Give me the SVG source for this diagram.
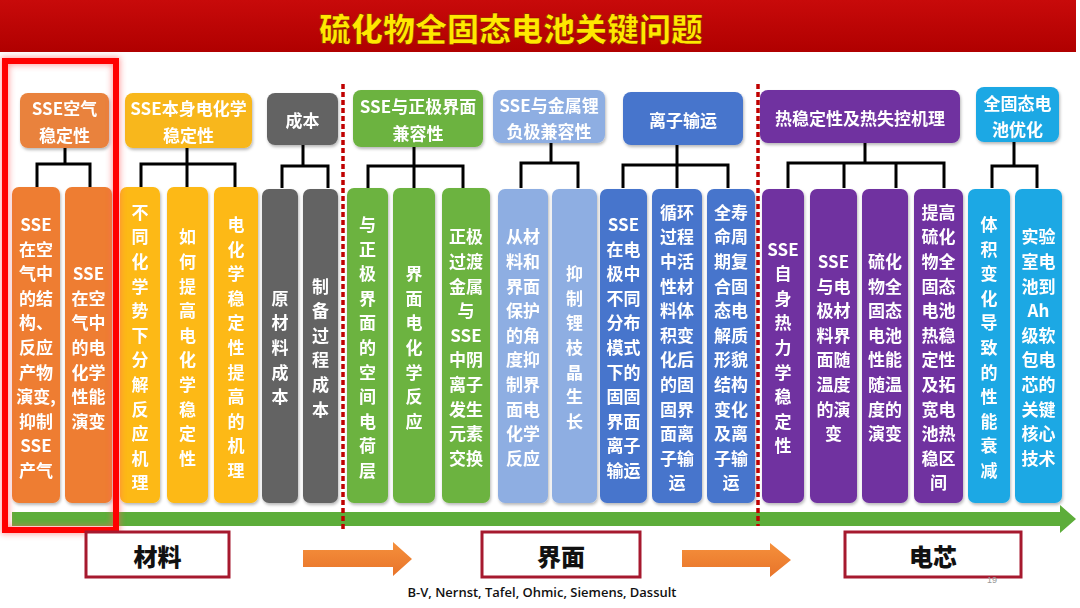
<svg xmlns="http://www.w3.org/2000/svg" width="1080" height="608" viewBox="0 0 1080 608">
<defs>
<filter id="sh" x="-20%" y="-10%" width="140%" height="120%"><feDropShadow dx="1" dy="2" stdDeviation="1.5" flood-color="#000" flood-opacity="0.28"/></filter>
<filter id="glow" x="-10%" y="-5%" width="120%" height="110%"><feGaussianBlur stdDeviation="3"/></filter>
<linearGradient id="tb" x1="0" y1="0" x2="0" y2="1"><stop offset="0" stop-color="#C80A0A"/><stop offset="1" stop-color="#B00000"/></linearGradient>
<linearGradient id="og" x1="0" y1="0" x2="0" y2="1"><stop offset="0" stop-color="#F5903C"/><stop offset="1" stop-color="#E8742A"/></linearGradient>
<style>
.ht{font-family:"Noto Sans CJK SC","Liberation Sans",sans-serif;font-weight:700;font-size:17px;fill:#fff;text-anchor:middle;dominant-baseline:central}
.ct{font-family:"Noto Sans CJK SC","Liberation Sans",sans-serif;font-weight:700;font-size:17px;fill:#fff;text-anchor:middle;dominant-baseline:central}
.bt{font-family:"Noto Sans CJK SC","Liberation Sans",sans-serif;font-weight:900;font-size:24px;fill:#111;text-anchor:middle;dominant-baseline:central}
.box{filter:url(#sh)}
.or{fill:#EE7D31}.orh{fill:#E9823C}
.ye{fill:#FDB913}.yeh{fill:#F8B71A}
.gr{fill:#646464}
.gn{fill:#6CB33F}
.lb{fill:#8EAEE2}
.bl{fill:#4774CC}
.pu{fill:#7030A0}
.cy{fill:#1FA8E4}
.conn{stroke:#000;stroke-width:3;fill:none}
.dash{stroke:#C00000;stroke-width:3.5;stroke-dasharray:5 3;fill:none}
.lbl{fill:#fff;stroke:#A6192E;stroke-width:3}
</style>
</defs>
<rect x="0" y="0" width="1080" height="608" fill="#fff"/>
<g id="title">
<rect x="0" y="0" width="1076" height="52" fill="url(#tb)"/>
<text x="511" y="27" style="font-family:'Noto Sans CJK SC','Liberation Sans',sans-serif;font-weight:900;font-size:32px;fill:#FFE800;text-anchor:middle;dominant-baseline:central;stroke:#8a1000;stroke-width:0.6">硫化物全固态电池关键问题</text>
</g>

<g id="connectors">
<path class="conn" d="M65,148V164M37,187V164H90V187"/>
<path class="conn" d="M187,148V187M141,187V164H235V187"/>
<path class="conn" d="M303,145V166M282,188V166H328V188"/>
<path class="conn" d="M414,147V188M368,188V166H463V188"/>
<path class="conn" d="M551,143V163M521,188V163H578V188"/>
<path class="conn" d="M677,145V188M623,188V165H728V188"/>
<path class="conn" d="M865,143V163M788,188V163H944V188M844,163V188M896,163V188"/>
<path class="conn" d="M1014,142V166M992,188V166H1037V188"/>
</g>

<g id="h-air" class="box"><rect class="orh" x="20" y="93" width="89" height="55" rx="8"/><text class="ht" x="64.5" y="107">SSE空气</text><text class="ht" x="64.5" y="134">稳定性</text></g>
<g id="h-echem" class="box"><rect class="yeh" x="125" y="93" width="127" height="55" rx="8"/><text class="ht" x="188.5" y="107">SSE本身电化学</text><text class="ht" x="188.5" y="134">稳定性</text></g>
<g id="h-cost" class="box"><rect class="gr" x="267" y="93" width="71" height="52" rx="8"/><text class="ht" x="302.5" y="119">成本</text></g>
<g id="h-cathode" class="box"><rect class="gn" x="353" y="90" width="130" height="57" rx="8"/><text class="ht" x="418" y="105">SSE与正极界面</text><text class="ht" x="418" y="132">兼容性</text></g>
<g id="h-anode" class="box"><rect class="lb" x="493" y="90" width="112" height="53" rx="8"/><text class="ht" x="549" y="104">SSE与金属锂</text><text class="ht" x="549" y="130">负极兼容性</text></g>
<g id="h-ion" class="box"><rect class="bl" x="623" y="92" width="120" height="53" rx="8"/><text class="ht" x="683" y="119">离子输运</text></g>
<g id="h-thermal" class="box"><rect class="pu" x="760" y="90" width="200" height="53" rx="8"/><text class="ht" x="860" y="117">热稳定性及热失控机理</text></g>
<g id="h-opt" class="box"><rect class="cy" x="976" y="87" width="83" height="55" rx="8"/><text class="ht" x="1017.5" y="102">全固态电</text><text class="ht" x="1017.5" y="128">池优化</text></g>

<g id="c1" class="box"><rect class="or" x="12" y="187" width="48" height="316" rx="7"/>
<text class="ct" x="36" y="223"><tspan x="36" dy="0">SSE</tspan><tspan x="36" dy="24.6">在空</tspan><tspan x="36" dy="24.6">气中</tspan><tspan x="36" dy="24.6">的结</tspan><tspan x="36" dy="24.6">构、</tspan><tspan x="36" dy="24.6">反应</tspan><tspan x="36" dy="24.6">产物</tspan><tspan x="36" dy="24.6">演变,</tspan><tspan x="36" dy="24.6">抑制</tspan><tspan x="36" dy="24.6">SSE</tspan><tspan x="36" dy="24.6">产气</tspan></text></g>
<g id="c2" class="box"><rect class="or" x="65" y="187" width="47" height="316" rx="7"/>
<text class="ct" x="88.5" y="272.2"><tspan x="88.5" dy="0">SSE</tspan><tspan x="88.5" dy="24.6">在空</tspan><tspan x="88.5" dy="24.6">气中</tspan><tspan x="88.5" dy="24.6">的电</tspan><tspan x="88.5" dy="24.6">化学</tspan><tspan x="88.5" dy="24.6">性能</tspan><tspan x="88.5" dy="24.6">演变</tspan></text></g>

<g id="c3" class="box"><rect class="ye" x="120" y="187" width="40" height="316" rx="7"/>
<text class="ct" x="140" y="210.7"><tspan x="140" dy="0">不</tspan><tspan x="140" dy="24.6">同</tspan><tspan x="140" dy="24.6">化</tspan><tspan x="140" dy="24.6">学</tspan><tspan x="140" dy="24.6">势</tspan><tspan x="140" dy="24.6">下</tspan><tspan x="140" dy="24.6">分</tspan><tspan x="140" dy="24.6">解</tspan><tspan x="140" dy="24.6">反</tspan><tspan x="140" dy="24.6">应</tspan><tspan x="140" dy="24.6">机</tspan><tspan x="140" dy="24.6">理</tspan></text></g>
<g id="c4" class="box"><rect class="ye" x="167" y="187" width="41" height="316" rx="7"/>
<text class="ct" x="187.5" y="235.3"><tspan x="187.5" dy="0">如</tspan><tspan x="187.5" dy="24.6">何</tspan><tspan x="187.5" dy="24.6">提</tspan><tspan x="187.5" dy="24.6">高</tspan><tspan x="187.5" dy="24.6">电</tspan><tspan x="187.5" dy="24.6">化</tspan><tspan x="187.5" dy="24.6">学</tspan><tspan x="187.5" dy="24.6">稳</tspan><tspan x="187.5" dy="24.6">定</tspan><tspan x="187.5" dy="24.6">性</tspan></text></g>
<g id="c5" class="box"><rect class="ye" x="214" y="187" width="44" height="316" rx="7"/>
<text class="ct" x="236" y="223"><tspan x="236" dy="0">电</tspan><tspan x="236" dy="24.6">化</tspan><tspan x="236" dy="24.6">学</tspan><tspan x="236" dy="24.6">稳</tspan><tspan x="236" dy="24.6">定</tspan><tspan x="236" dy="24.6">性</tspan><tspan x="236" dy="24.6">提</tspan><tspan x="236" dy="24.6">高</tspan><tspan x="236" dy="24.6">的</tspan><tspan x="236" dy="24.6">机</tspan><tspan x="236" dy="24.6">理</tspan></text></g>

<g id="c6" class="box"><rect class="gr" x="262" y="189" width="36" height="314" rx="7"/>
<text class="ct" x="280" y="296.8"><tspan x="280" dy="0">原</tspan><tspan x="280" dy="24.6">材</tspan><tspan x="280" dy="24.6">料</tspan><tspan x="280" dy="24.6">成</tspan><tspan x="280" dy="24.6">本</tspan></text></g>
<g id="c7" class="box"><rect class="gr" x="303" y="189" width="35" height="314" rx="7"/>
<text class="ct" x="320.5" y="284.5"><tspan x="320.5" dy="0">制</tspan><tspan x="320.5" dy="24.6">备</tspan><tspan x="320.5" dy="24.6">过</tspan><tspan x="320.5" dy="24.6">程</tspan><tspan x="320.5" dy="24.6">成</tspan><tspan x="320.5" dy="24.6">本</tspan></text></g>

<g id="c8" class="box"><rect class="gn" x="347" y="188" width="41" height="315" rx="7"/>
<text class="ct" x="367.5" y="223"><tspan x="367.5" dy="0">与</tspan><tspan x="367.5" dy="24.6">正</tspan><tspan x="367.5" dy="24.6">极</tspan><tspan x="367.5" dy="24.6">界</tspan><tspan x="367.5" dy="24.6">面</tspan><tspan x="367.5" dy="24.6">的</tspan><tspan x="367.5" dy="24.6">空</tspan><tspan x="367.5" dy="24.6">间</tspan><tspan x="367.5" dy="24.6">电</tspan><tspan x="367.5" dy="24.6">荷</tspan><tspan x="367.5" dy="24.6">层</tspan></text></g>
<g id="c9" class="box"><rect class="gn" x="393" y="188" width="42" height="315" rx="7"/>
<text class="ct" x="414" y="272.2"><tspan x="414" dy="0">界</tspan><tspan x="414" dy="24.6">面</tspan><tspan x="414" dy="24.6">电</tspan><tspan x="414" dy="24.6">化</tspan><tspan x="414" dy="24.6">学</tspan><tspan x="414" dy="24.6">反</tspan><tspan x="414" dy="24.6">应</tspan></text></g>
<g id="c10" class="box"><rect class="gn" x="442" y="188" width="48" height="315" rx="7"/>
<text class="ct" x="466" y="235.3"><tspan x="466" dy="0">正极</tspan><tspan x="466" dy="24.6">过渡</tspan><tspan x="466" dy="24.6">金属</tspan><tspan x="466" dy="24.6">与</tspan><tspan x="466" dy="24.6">SSE</tspan><tspan x="466" dy="24.6">中阴</tspan><tspan x="466" dy="24.6">离子</tspan><tspan x="466" dy="24.6">发生</tspan><tspan x="466" dy="24.6">元素</tspan><tspan x="466" dy="24.6">交换</tspan></text></g>

<g id="c11" class="box"><rect class="lb" x="498" y="189" width="50" height="314" rx="7"/>
<text class="ct" x="523" y="235.3"><tspan x="523" dy="0">从材</tspan><tspan x="523" dy="24.6">料和</tspan><tspan x="523" dy="24.6">界面</tspan><tspan x="523" dy="24.6">保护</tspan><tspan x="523" dy="24.6">的角</tspan><tspan x="523" dy="24.6">度抑</tspan><tspan x="523" dy="24.6">制界</tspan><tspan x="523" dy="24.6">面电</tspan><tspan x="523" dy="24.6">化学</tspan><tspan x="523" dy="24.6">反应</tspan></text></g>
<g id="c12" class="box"><rect class="lb" x="552" y="189" width="45" height="314" rx="7"/>
<text class="ct" x="574.5" y="272.2"><tspan x="574.5" dy="0">抑</tspan><tspan x="574.5" dy="24.6">制</tspan><tspan x="574.5" dy="24.6">锂</tspan><tspan x="574.5" dy="24.6">枝</tspan><tspan x="574.5" dy="24.6">晶</tspan><tspan x="574.5" dy="24.6">生</tspan><tspan x="574.5" dy="24.6">长</tspan></text></g>

<g id="c13" class="box"><rect class="bl" x="600" y="189" width="47" height="314" rx="7"/>
<text class="ct" x="623.5" y="223"><tspan x="623.5" dy="0">SSE</tspan><tspan x="623.5" dy="24.6">在电</tspan><tspan x="623.5" dy="24.6">极中</tspan><tspan x="623.5" dy="24.6">不同</tspan><tspan x="623.5" dy="24.6">分布</tspan><tspan x="623.5" dy="24.6">模式</tspan><tspan x="623.5" dy="24.6">下的</tspan><tspan x="623.5" dy="24.6">固固</tspan><tspan x="623.5" dy="24.6">界面</tspan><tspan x="623.5" dy="24.6">离子</tspan><tspan x="623.5" dy="24.6">输运</tspan></text></g>
<g id="c14" class="box"><rect class="bl" x="652" y="189" width="50" height="314" rx="7"/>
<text class="ct" x="677" y="210.7"><tspan x="677" dy="0">循环</tspan><tspan x="677" dy="24.6">过程</tspan><tspan x="677" dy="24.6">中活</tspan><tspan x="677" dy="24.6">性材</tspan><tspan x="677" dy="24.6">料体</tspan><tspan x="677" dy="24.6">积变</tspan><tspan x="677" dy="24.6">化后</tspan><tspan x="677" dy="24.6">的固</tspan><tspan x="677" dy="24.6">固界</tspan><tspan x="677" dy="24.6">面离</tspan><tspan x="677" dy="24.6">子输</tspan><tspan x="677" dy="24.6">运</tspan></text></g>
<g id="c15" class="box"><rect class="bl" x="707" y="189" width="48" height="314" rx="7"/>
<text class="ct" x="731" y="210.7"><tspan x="731" dy="0">全寿</tspan><tspan x="731" dy="24.6">命周</tspan><tspan x="731" dy="24.6">期复</tspan><tspan x="731" dy="24.6">合固</tspan><tspan x="731" dy="24.6">态电</tspan><tspan x="731" dy="24.6">解质</tspan><tspan x="731" dy="24.6">形貌</tspan><tspan x="731" dy="24.6">结构</tspan><tspan x="731" dy="24.6">变化</tspan><tspan x="731" dy="24.6">及离</tspan><tspan x="731" dy="24.6">子输</tspan><tspan x="731" dy="24.6">运</tspan></text></g>

<g id="c16" class="box"><rect class="pu" x="762" y="189" width="42" height="314" rx="7"/>
<text class="ct" x="783" y="247.6"><tspan x="783" dy="0">SSE</tspan><tspan x="783" dy="24.6">自</tspan><tspan x="783" dy="24.6">身</tspan><tspan x="783" dy="24.6">热</tspan><tspan x="783" dy="24.6">力</tspan><tspan x="783" dy="24.6">学</tspan><tspan x="783" dy="24.6">稳</tspan><tspan x="783" dy="24.6">定</tspan><tspan x="783" dy="24.6">性</tspan></text></g>
<g id="c17" class="box"><rect class="pu" x="810" y="189" width="47" height="314" rx="7"/>
<text class="ct" x="833.5" y="259.9"><tspan x="833.5" dy="0">SSE</tspan><tspan x="833.5" dy="24.6">与电</tspan><tspan x="833.5" dy="24.6">极材</tspan><tspan x="833.5" dy="24.6">料界</tspan><tspan x="833.5" dy="24.6">面随</tspan><tspan x="833.5" dy="24.6">温度</tspan><tspan x="833.5" dy="24.6">的演</tspan><tspan x="833.5" dy="24.6">变</tspan></text></g>
<g id="c18" class="box"><rect class="pu" x="862" y="189" width="46" height="314" rx="7"/>
<text class="ct" x="885" y="259.9"><tspan x="885" dy="0">硫化</tspan><tspan x="885" dy="24.6">物全</tspan><tspan x="885" dy="24.6">固态</tspan><tspan x="885" dy="24.6">电池</tspan><tspan x="885" dy="24.6">性能</tspan><tspan x="885" dy="24.6">随温</tspan><tspan x="885" dy="24.6">度的</tspan><tspan x="885" dy="24.6">演变</tspan></text></g>
<g id="c19" class="box"><rect class="pu" x="914" y="189" width="49" height="314" rx="7"/>
<text class="ct" x="938.5" y="210.7"><tspan x="938.5" dy="0">提高</tspan><tspan x="938.5" dy="24.6">硫化</tspan><tspan x="938.5" dy="24.6">物全</tspan><tspan x="938.5" dy="24.6">固态</tspan><tspan x="938.5" dy="24.6">电池</tspan><tspan x="938.5" dy="24.6">热稳</tspan><tspan x="938.5" dy="24.6">定性</tspan><tspan x="938.5" dy="24.6">及拓</tspan><tspan x="938.5" dy="24.6">宽电</tspan><tspan x="938.5" dy="24.6">池热</tspan><tspan x="938.5" dy="24.6">稳区</tspan><tspan x="938.5" dy="24.6">间</tspan></text></g>

<g id="c20" class="box"><rect class="cy" x="968" y="189" width="42" height="314" rx="7"/>
<text class="ct" x="989" y="223"><tspan x="989" dy="0">体</tspan><tspan x="989" dy="24.6">积</tspan><tspan x="989" dy="24.6">变</tspan><tspan x="989" dy="24.6">化</tspan><tspan x="989" dy="24.6">导</tspan><tspan x="989" dy="24.6">致</tspan><tspan x="989" dy="24.6">的</tspan><tspan x="989" dy="24.6">性</tspan><tspan x="989" dy="24.6">能</tspan><tspan x="989" dy="24.6">衰</tspan><tspan x="989" dy="24.6">减</tspan></text></g>
<g id="c21" class="box"><rect class="cy" x="1015" y="189" width="47" height="314" rx="7"/>
<text class="ct" x="1038.5" y="235.3"><tspan x="1038.5" dy="0">实验</tspan><tspan x="1038.5" dy="24.6">室电</tspan><tspan x="1038.5" dy="24.6">池到</tspan><tspan x="1038.5" dy="24.6">Ah</tspan><tspan x="1038.5" dy="24.6">级软</tspan><tspan x="1038.5" dy="24.6">包电</tspan><tspan x="1038.5" dy="24.6">芯的</tspan><tspan x="1038.5" dy="24.6">关键</tspan><tspan x="1038.5" dy="24.6">核心</tspan><tspan x="1038.5" dy="24.6">技术</tspan></text></g>

<g id="timeline">
<polygon points="12,512 1060,512 1060,505 1076,519 1060,533 1060,526 12,526" fill="#5DAD3A"/>
</g>

<g id="dividers">
<line class="dash" x1="343" y1="84" x2="343" y2="532"/>
<line class="dash" x1="758" y1="84" x2="758" y2="526"/>
</g>

<g id="highlight">
<rect x="5" y="61" width="111" height="469" fill="none" stroke="#FF6060" stroke-width="8" filter="url(#glow)" opacity="0.6"/>
<rect x="5" y="61" width="111" height="469" fill="none" stroke="#FF0000" stroke-width="6"/>
</g>

<g id="stage-material"><rect class="lbl" x="86" y="532" width="143" height="45"/><text class="bt" x="157.5" y="555">材料</text></g>
<g id="arrow1"><polygon points="303,550 393,550 393,542 412,559 393,576 393,567 303,567" fill="url(#og)"/></g>
<g id="stage-interface"><rect class="lbl" x="482" y="532" width="158" height="45"/><text class="bt" x="561" y="555">界面</text></g>
<g id="arrow2"><polygon points="682,550 770,550 770,543 791,560 770,577 770,567 682,567" fill="url(#og)"/></g>
<g id="stage-cell"><rect class="lbl" x="845" y="532" width="176" height="45"/><text class="bt" x="933" y="555">电芯</text></g>

<text x="542" y="597" textLength="269" lengthAdjust="spacingAndGlyphs" style="font-family:'Open Sans','Liberation Sans',sans-serif;font-weight:600;font-size:13px;fill:#111;text-anchor:middle">B-V, Nernst, Tafel, Ohmic, Siemens, Dassult</text>
<text x="992" y="583" style="font-family:'Liberation Sans',sans-serif;font-size:9px;fill:#999;text-anchor:middle">19</text>
</svg>
